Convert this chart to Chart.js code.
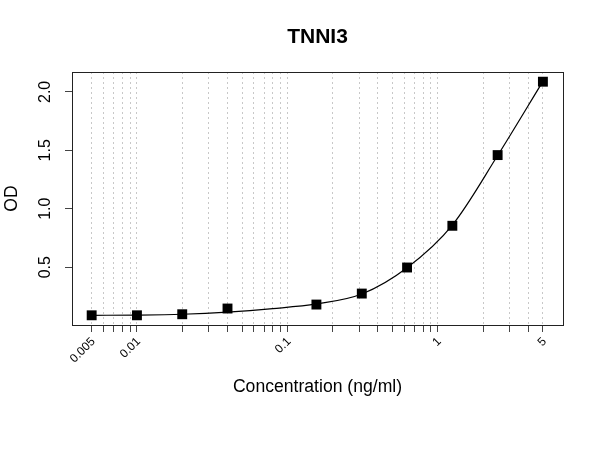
<!DOCTYPE html>
<html>
<head>
<meta charset="utf-8">
<script src="https://cdn.jsdelivr.net/npm/chart.js@4/dist/chart.umd.min.js"></script>
<style>
  html, body { margin: 0; padding: 0; background: #fff; }
</style>
</head>
<body>
<canvas id="c" width="600" height="450"></canvas>
<script>
// standard curve, TNNI3
const concentrations = [0.005, 0.01, 0.02, 0.04, 0.156, 0.3125, 0.625, 1.25, 2.5, 5];
const odValues       = [0.088, 0.088, 0.097, 0.146, 0.18, 0.274, 0.497, 0.854, 1.459, 2.087];

// fitted curve
const fitConc = [0.005, 0.01, 0.02, 0.04, 0.08, 0.156, 0.3125, 0.625, 1.25, 2.5, 5];
const fitOD   = [0.088, 0.090, 0.097, 0.115, 0.145, 0.185, 0.270, 0.495, 0.860, 1.455, 2.090];

const xGridValues  = [0.005, 0.006, 0.007, 0.008, 0.009, 0.01, 0.02, 0.03, 0.04, 0.05, 0.06, 0.07, 0.08, 0.09,
                      0.1, 0.2, 0.3, 0.4, 0.5, 0.6, 0.7, 0.8, 0.9, 1, 2, 3, 4, 5];
const xLabelValues = [0.005, 0.01, 0.1, 1, 5];
const xTickLabels  = ['0.005', '0.01', '0.1', '1', '5'];
const yTickValues  = [0.5, 1, 1.5, 2];
const yTickLabels  = ['0.5', '1.0', '1.5', '2.0'];

const FONT = "'Liberation Sans', Arial, sans-serif";

const rText = {
  id: 'rText',
  afterDraw(chart) {
    const { ctx, chartArea: a, scales: { x, y } } = chart;
    ctx.save();
    // box round the plot
    ctx.strokeStyle = '#222';
    ctx.lineWidth = 1;
    ctx.strokeRect(a.left + 0.5, a.top + 0.5, a.right - a.left, a.bottom - a.top);

    ctx.fillStyle = '#000';
    // title
    ctx.font = 'bold 21px ' + FONT;
    ctx.textAlign = 'center';
    ctx.textBaseline = 'alphabetic';
    ctx.fillText('TNNI3', (a.left + a.right) / 2, 43);

    // x axis title
    ctx.font = '17.6px ' + FONT;
    ctx.fillText('Concentration (ng/ml)', (a.left + a.right) / 2, 392);

    // y axis title
    ctx.save();
    ctx.translate(17, (a.top + a.bottom) / 2);
    ctx.rotate(-Math.PI / 2);
    ctx.fillText('OD', 0, 0);
    ctx.restore();

    // y tick labels, turned like R's
    ctx.font = '16px ' + FONT;
    yTickValues.forEach((v, i) => {
      ctx.save();
      ctx.translate(50, y.getPixelForValue(v));
      ctx.rotate(-Math.PI / 2);
      ctx.textAlign = 'center';
      ctx.fillText(yTickLabels[i], 0, 0);
      ctx.restore();
    });

    // x tick labels at 45 degrees
    ctx.font = '12px ' + FONT;
    xLabelValues.forEach((v, i) => {
      ctx.save();
      ctx.translate(x.getPixelForValue(v) + 4, 342);
      ctx.rotate(-Math.PI / 4);
      ctx.textAlign = 'right';
      ctx.fillText(xTickLabels[i], 0, 0);
      ctx.restore();
    });
    ctx.restore();
  }
};

new Chart(document.getElementById('c'), {
  type: 'line',
  data: {
    datasets: [{
      // fit line
      data: fitConc.map((c, i) => ({ x: c, y: fitOD[i] })),
      borderColor: '#000',
      borderWidth: 1.2,
      pointRadius: 0,
      cubicInterpolationMode: 'monotone',
      fill: false,
      clip: false
    }, {
      // measured standards
      data: concentrations.map((c, i) => ({ x: c, y: odValues[i] })),
      showLine: false,
      backgroundColor: '#000',
      pointStyle: 'rect',
      pointRadius: 7,
      pointBorderWidth: 0,
      clip: false
    }]
  },
  options: {
    responsive: false,
    animation: false,
    layout: { padding: { left: 72, right: 37, top: 72, bottom: 125 } },
    plugins: { legend: { display: false }, tooltip: { enabled: false } },
    scales: {
      x: {
        type: 'logarithmic',
        min: 0.0037,
        max: 6.8,
        afterBuildTicks: s => { s.ticks = xGridValues.map(v => ({ value: v })); },
        afterFit: s => { s.height = 0; },
        ticks: { display: false },
        grid: { color: '#c8c8c8', lineWidth: 1, borderDash: [2, 3], drawTicks: true, tickLength: 7,
                tickColor: '#444', tickWidth: 1, tickBorderDash: [] },
        border: { display: false, dash: [2, 3] }
      },
      y: {
        min: 0.005,
        max: 2.17,
        afterBuildTicks: s => { s.ticks = yTickValues.map(v => ({ value: v })); },
        afterFit: s => { s.width = 0; },
        ticks: { display: false },
        grid: { drawOnChartArea: false, drawTicks: true, tickLength: 7, tickColor: '#444', tickWidth: 1 },
        border: { display: false }
      }
    }
  },
  plugins: [rText]
});
</script>
</body>
</html>
